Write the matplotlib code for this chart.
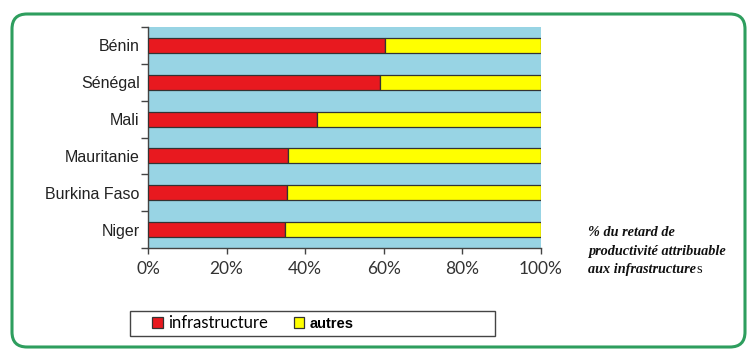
import matplotlib.pyplot as plt
import numpy as np
from matplotlib.patches import FancyBboxPatch, Rectangle

# Data (share of productivity gap, %)
countries = ["Bénin", "Sénégal", "Mali", "Mauritanie", "Burkina Faso", "Niger"]
infra = [60.2, 59.0, 42.9, 35.7, 35.3, 34.9]
autres = [100 - v for v in infra]
xticks = [0, 20, 40, 60, 80, 100]

RED = "#e8191f"
YELLOW = "#ffff00"
BLUE = "#98d4e4"
GREEN = "#2e9e5e"

W, H = 747, 350
fig = plt.figure(figsize=(W / 100, H / 100), dpi=100)
ax = fig.add_axes([148 / W, 1 - 248 / H, 393 / W, 221 / H])
ax.set_facecolor(BLUE)

y = np.arange(len(countries))[::-1]
ax.barh(y, infra, height=0.41, color=RED, edgecolor="#333333", linewidth=0.9,
        label="infrastructure", zorder=3)
ax.barh(y, autres, left=infra, height=0.41, color=YELLOW, edgecolor="#333333",
        linewidth=0.9, label="autres", zorder=3)

ax.set_xlim(0, 100)
ax.set_ylim(-0.5, len(countries) - 0.5)

# Country names at bar centres, tick marks at the band boundaries
ax.set_yticks(y)
ax.set_yticklabels(countries, family="Liberation Sans", fontsize=11.5, color="#222222")
ax.tick_params(axis="y", which="major", length=0, pad=6)
ax.set_yticks(np.arange(len(countries) + 1) - 0.5, minor=True)
ax.tick_params(axis="y", which="minor", length=5, width=1, color="#444444")

ax.set_xticks(xticks)
ax.set_xticklabels([f"{v}%" for v in xticks], family="Lato", fontsize=12.5, color="#333333")
ax.tick_params(axis="x", length=4, width=1, color="#444444", pad=5)

for side in ["top", "right"]:
    ax.spines[side].set_visible(False)
for side in ["left", "bottom"]:
    ax.spines[side].set_color("#444444")
    ax.spines[side].set_linewidth(1)

# Legend under the chart, inside its own box
fig.patches.append(Rectangle((130 / W, 1 - 336 / H), 365 / W, 25 / H, transform=fig.transFigure,
                             facecolor="white", edgecolor="#444444", linewidth=1))
leg = fig.legend(loc="center left", bbox_to_anchor=(152 / W, 1 - 323.5 / H), ncol=2,
                 frameon=False, handlelength=0.65, handleheight=0.6, handletextpad=0.3,
                 columnspacing=1.55, borderaxespad=0, borderpad=0,
                 prop={"family": "Lato", "size": 12})
leg.get_texts()[1].set_fontfamily("Liberation Sans")
leg.get_texts()[1].set_fontweight("bold")
leg.get_texts()[1].set_fontsize(10.5)

# Side note
note = ["% du retard de", "productivité attribuable", "aux infrastructure"]
for i, line in enumerate(note):
    t = fig.text(588 / W, 1 - (236 + i * 18.5) / H, line, family="Liberation Serif",
                 style="italic", weight="bold", fontsize=10.3, color="#111111", va="baseline")
ax.annotate("s", xy=(1, 0), xycoords=t, va="bottom", ha="left",
            family="Liberation Serif", fontsize=10.3, color="#111111")

# Rounded green frame
frame = FancyBboxPatch((0.12, 0.03), 7.33, 3.33, boxstyle="round,pad=0,rounding_size=0.15",
                       transform=fig.dpi_scale_trans, facecolor="none", edgecolor=GREEN,
                       linewidth=2.2, zorder=0)
fig.patches.append(frame)

plt.savefig("out.png", dpi=100)
plt.close()
